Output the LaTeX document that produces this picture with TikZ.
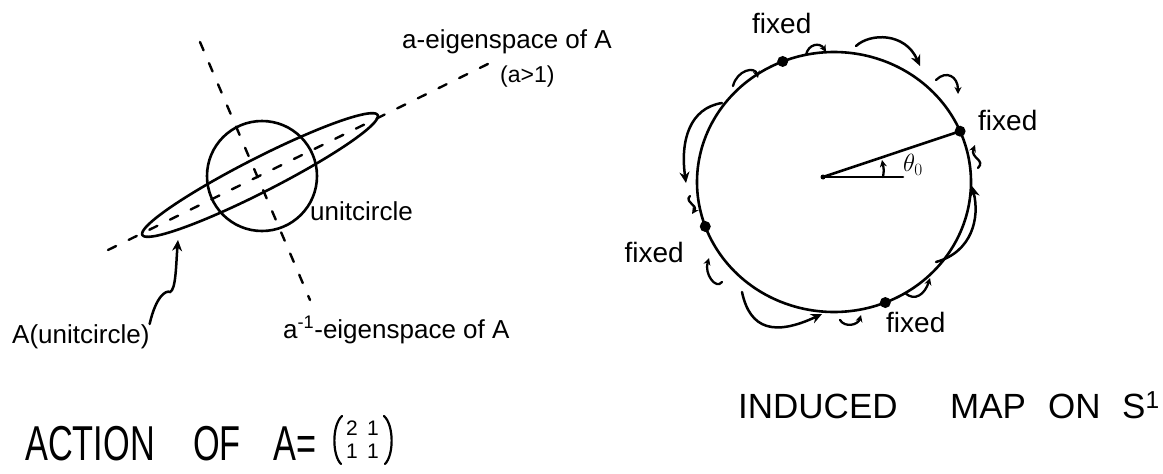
\documentclass[tikz,border=0pt]{standalone}
\usepackage{fontspec}
\setmainfont{Liberation Sans}
\usetikzlibrary{arrows.meta}
\begin{document}
\begin{tikzpicture}[x=1pt,y=-1pt,
  ink/.style={line width=2.6pt, line cap=round, line join=round},
  dashln/.style={line width=2.4pt, dash pattern=on 9pt off 14pt, line cap=round},
  arr/.style={line width=2.5pt, line cap=round, -{Stealth[length=11pt,width=10pt]}},
  sarr/.style={line width=2.3pt, line cap=round, -{Stealth[length=7pt,width=7pt]}},
  lbl/.style={font=\fontsize{26}{28}\selectfont, inner sep=0pt},
  slbl/.style={font=\fontsize{23}{25}\selectfont, inner sep=0pt},
  fx/.style={font=\fontsize{28}{30}\selectfont, inner sep=0pt},
  capt/.style={font=\fontsize{49}{50}\selectfont, inner sep=0pt},
  capt2/.style={font=\fontsize{35}{36}\selectfont, inner sep=0pt},
  ent/.style={font=\fontsize{21}{22}\selectfont, inner sep=0pt},
  fixdot/.style={circle, fill, inner sep=0pt, minimum size=11pt}]
\useasboundingbox (0,0) rectangle (1163,474);

% ---------- left: action of A ----------
\coordinate (e1) at (108,250);
\coordinate (e2) at (492,62);
\coordinate (p1) at (200,42);
\coordinate (p2) at (310,300);
\draw[dashln] (e1) -- (e2);
\draw[dashln] (p1) -- (p2);
\node[circle, draw, ink, minimum size=110pt, inner sep=0pt] (uc) at (262,176) {};
\draw[ink] plot[variable=\t, domain=0:357, samples=120, smooth cycle]
  ({260+132*cos(\t)*cos(27)+17*sin(\t)*sin(27)}, {175-132*cos(\t)*sin(27)+17*sin(\t)*cos(27)});
\coordinate (etip) at (178,240);

\node[lbl, anchor=base west] (aeig) at (402,48) {a-eigenspace of A};
\node[slbl, anchor=base west] (agt) at (500,82) {(a>1)};
\node[lbl, anchor=base west] (ucl) at (310,220) {unitcircle};
\node[lbl, anchor=base west] (auc) at (12,343) {A(unitcircle)};
\node[lbl, anchor=base west] (ainv) at (283,338) {a\textsuperscript{-1}-eigenspace of A};
\draw[arr] (auc.north east) .. controls (156,296) and (166,290) .. (170,292)
  .. controls (176,290) and (176,264) .. (etip);

\node[capt, anchor=base west] (t1) at (25,460) {\scalebox{0.7}[1]{ACTION}};
\node[capt, anchor=base west] (t2) at (193,460) {\scalebox{0.7}[1]{OF}};
\node[capt, anchor=base west] (t3) at (273,460) {\scalebox{0.7}[1]{A=}};
% matrix (2 1 / 1 1)
\node[ent] (m11) at (352,428) {2};
\node[ent] (m12) at (373,428) {1};
\node[ent] (m21) at (352,451) {1};
\node[ent] (m22) at (373,451) {1};
\coordinate (lp1) at (342,416);
\coordinate (lp2) at (341,464);
\coordinate (rp1) at (384,416);
\coordinate (rp2) at (385,464);
\draw[line width=2.2pt, line cap=round] (lp1) .. controls (332,425) and (332,455) .. (lp2);
\draw[line width=2.2pt, line cap=round] (rp1) .. controls (394,425) and (394,455) .. (rp2);

% ---------- right: induced map on S^1 ----------
\coordinate (c0) at (823,177);
\draw[ink] plot[variable=\t, domain=0:357, samples=120, smooth cycle]
  ({834+137*cos(\t)}, {182-130*sin(\t)});
\node[fixdot] (f1) at ({834+137*cos(112)}, {182-130*sin(112)}) {};
\node[fixdot] (f2) at ({834+137*cos(23)}, {182-130*sin(23)}) {};
\node[fixdot] (f3) at ({834+137*cos(200)}, {182-130*sin(200)}) {};
\node[fixdot] (f4) at ({834+137*cos(292)}, {182-130*sin(292)}) {};
\node[circle, fill, inner sep=0pt, minimum size=5pt] (cd) at (c0) {};
\coordinate (hz) at (903,177);
\draw[ink] (cd.center) -- (f2.center);
\draw[ink] (cd.center) -- (hz);
\draw[sarr] (883,177) .. controls (884,170) .. (882,160);
\node[inner sep=0pt, font=\fontsize{27}{29}\selectfont] (th) at (913,165) {$\theta_0$};

\node[fx, anchor=base west] (x1) at (752,33) {fixed};
\node[fx, anchor=base west] (x2) at (978,130) {fixed};
\node[fx, anchor=base east] (x3) at (684,262) {fixed};
\node[fx, anchor=base west] (x4) at (886,332) {fixed};

% big arrows
\draw[arr] (856,46) .. controls (870,33) and (905,32) .. (920,66);
\draw[arr] (722,103) .. controls (690,108) and (680,140) .. (686,183);
\draw[arr] (936,262) .. controls (972,252) and (980,218) .. (972,186);
\draw[arr] (742,292) .. controls (750,330) and (775,336) .. (822,314);
% small arrows
\draw[sarr] (806,55) .. controls (808,44) and (820,42) .. (826,52);
\draw[sarr] (936,80) .. controls (946,70) and (958,76) .. (958,94);
\draw[sarr] (978,168) .. controls (986,160) and (970,158) .. (975,145);
\draw[sarr] (905,293) .. controls (915,302) and (925,294) .. (930,278);
\draw[sarr] (840,320) .. controls (845,328) and (858,325) .. (861,315);
\draw[sarr] (722,282) .. controls (716,290) and (704,274) .. (709,258);
\draw[sarr] (690,196) .. controls (684,202) and (698,205) .. (692,214);
\draw[sarr] (733,86) .. controls (737,70) and (755,66) .. (758,78);

\node[capt2, anchor=base west] (i1) at (738,418) {INDUCED};
\node[capt2, anchor=base west] (i2) at (950,418) {MAP};
\node[capt2, anchor=base west] (i3) at (1048,418) {ON};
\node[capt2, anchor=base west] (i4) at (1122,418) {S\textsuperscript{1}};
\end{tikzpicture}
\end{document}
